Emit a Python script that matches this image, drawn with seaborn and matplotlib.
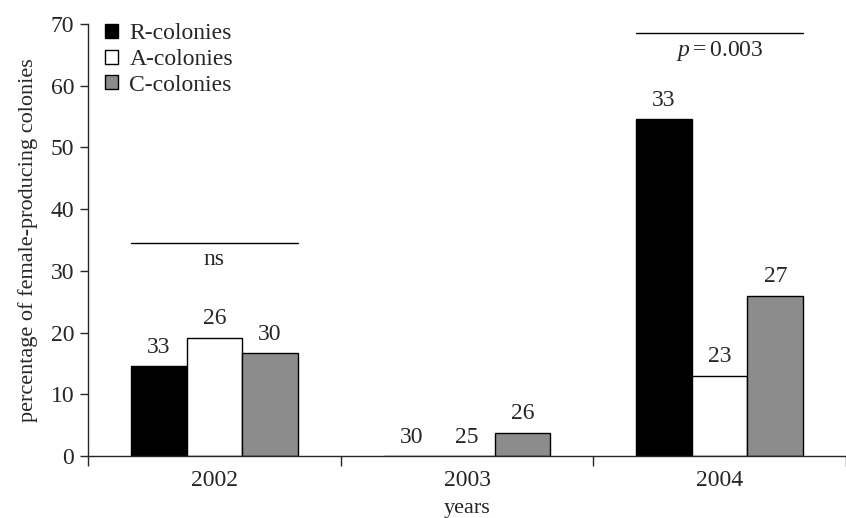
"""
Female-producing colonies per year and colony type, bar chart
"""

import numpy as np
import pandas as pd
import matplotlib
matplotlib.use('Agg')
import matplotlib.pyplot as plt
from matplotlib.patches import Patch
import seaborn as sns

years = ['2002', '2003', '2004']
colony_types = ['R-colonies', 'A-colonies', 'C-colonies']
r_vals = [14.6, 0.0, 54.6]
a_vals = [19.2, 0.0, 13.0]
c_vals = [16.7, 3.8, 26.0]
r_n = [33, 30, 33]
a_n = [26, 25, 23]
c_n = [30, 26, 27]
colours = ['#000000', '#ffffff', '#8c8c8c']

# significance bars: (year index, height, text)
sig_year = [0, 2]
sig_height = [34.5, 68.5]
sig_text = ['ns', '$p$$=$0.003']

df = pd.DataFrame({
    'year': years * 3,
    'colony': np.repeat(colony_types, 3),
    'pct': r_vals + a_vals + c_vals,
})
counts = [r_n, a_n, c_n]

sns.set_style('ticks')
plt.rcParams['font.family'] = 'serif'
plt.rcParams['font.serif'] = ['Liberation Serif', 'DejaVu Serif']
plt.rcParams['mathtext.fontset'] = 'custom'
plt.rcParams['mathtext.it'] = 'Liberation Serif:italic'
plt.rcParams['mathtext.rm'] = 'Liberation Serif'

fs = 17

fig = plt.figure(figsize=(8.46, 5.18), dpi=100)
ax = fig.add_axes([88 / 846, (518 - 456) / 518, (846 - 88) / 846, 432 / 518])

sns.barplot(data=df, x='year', y='pct', hue='colony', order=years,
            hue_order=colony_types, palette=colours, width=0.66,
            edgecolor='black', linewidth=1.0, saturation=1, ax=ax,
            legend=False)

for cont, n in zip(ax.containers, counts):
    ax.bar_label(cont, labels=[str(v) for v in n], padding=6, fontsize=fs)

for xi, h, t in zip(sig_year, sig_height, sig_text):
    ax.plot([xi - 0.33, xi + 0.33], [h, h], color='black', lw=1)
    ax.text(xi, h - 0.9, t, ha='center', va='top', fontsize=fs)

ax.set_ylim(0, 70)
ax.set_xlim(-0.5, -0.5 + (846 - 88) / 254.5)
ax.set_yticks(range(0, 71, 10))
ax.set_xticks([-0.5, 0.5, 1.5, 2.5], minor=True)
ax.tick_params(axis='x', which='major', length=0, pad=10, labelsize=fs)
ax.tick_params(axis='x', which='minor', length=7, width=1, direction='out')
ax.tick_params(axis='y', length=6, width=1, labelsize=fs, pad=4)
sns.despine(ax=ax)
ax.spines['left'].set_linewidth(1)
ax.spines['bottom'].set_linewidth(1)

ax.set_xlabel('years', fontsize=16, labelpad=6)
ax.set_ylabel('percentage of female-producing colonies', fontsize=16, labelpad=9)

handles = [Patch(facecolor=c, edgecolor='black', lw=1) for c in colours]
ax.legend(handles, colony_types, loc='upper left', bbox_to_anchor=(0.0, 1.04),
          frameon=False, fontsize=fs, handlelength=0.55, handleheight=0.55,
          handletextpad=0.5, labelspacing=0.2, borderaxespad=0.3)

fig.savefig('out.png', dpi=100)
